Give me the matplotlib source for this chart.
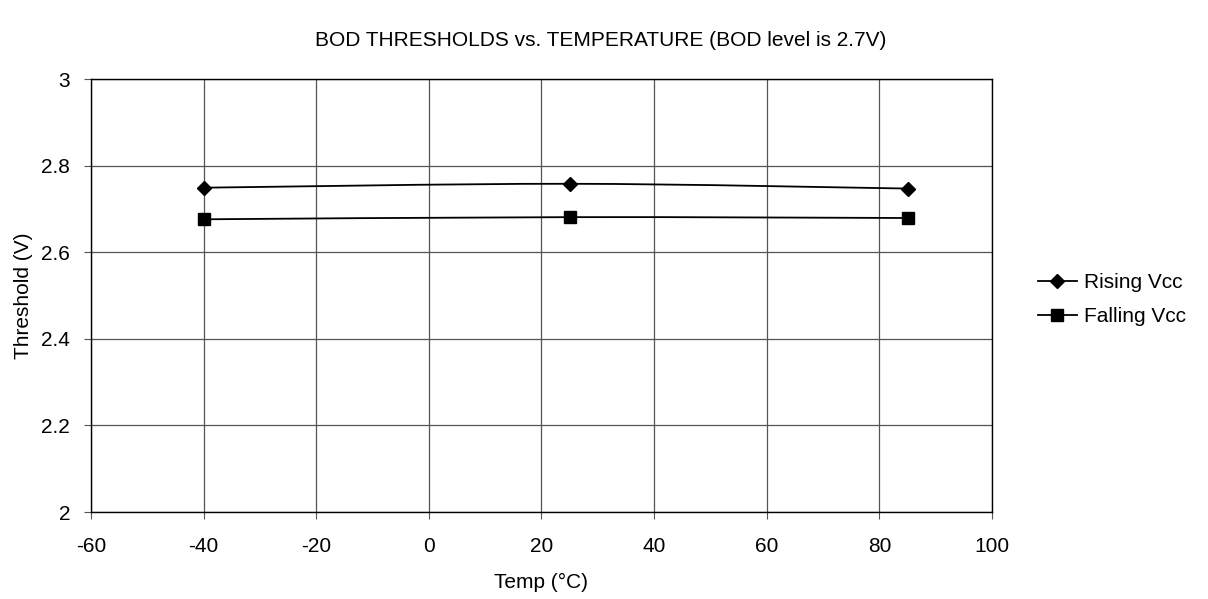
import matplotlib.pyplot as plt
from matplotlib.path import Path
from matplotlib.patches import PathPatch
from matplotlib.lines import Line2D
import numpy as np

plt.rcParams['font.family'] = ['Liberation Sans', 'DejaVu Sans']
plt.rcParams['axes.unicode_minus'] = False

temps = [-40, 25, 85]
rising = [2.749, 2.758, 2.747]
falling = [2.676, 2.681, 2.679]

x_ticks = [-60, -40, -20, 0, 20, 40, 60, 80, 100]
y_ticks = [2, 2.2, 2.4, 2.6, 2.8, 3]
y_labels = ['2', '2.2', '2.4', '2.6', '2.8', '3']


def smooth_path(x, y):
    # Excel-style smoothed line: Catmull-Rom through the points as cubic Beziers
    pts = np.column_stack([x, y]).astype(float)
    ext = np.vstack([pts[0], pts, pts[-1]])
    verts = [pts[0]]
    codes = [Path.MOVETO]
    for i in range(1, len(ext) - 2):
        p0, p1, p2, p3 = ext[i - 1], ext[i], ext[i + 1], ext[i + 2]
        verts += [p1 + (p2 - p0) / 6, p2 - (p3 - p1) / 6, p2]
        codes += [Path.CURVE4] * 3
    return Path(verts, codes)


fig = plt.figure(figsize=(12.08, 5.99), dpi=100)
ax = fig.add_axes([0.0753, 0.1452, 0.7459, 0.7229])

for vals, mk, ms in [(rising, 'D', 7), (falling, 's', 8.5)]:
    ax.add_patch(PathPatch(smooth_path(temps, vals), fill=False,
                           edgecolor='black', lw=1.3, zorder=3))
    ax.plot(temps, vals, linestyle='none', marker=mk, markersize=ms,
            color='black', zorder=4)

ax.set_xlim(-60, 100)
ax.set_ylim(2, 3)
ax.set_xticks(x_ticks)
ax.set_xticklabels([str(t) for t in x_ticks])
ax.set_yticks(y_ticks)
ax.set_yticklabels(y_labels)
ax.grid(True, color='#555555', lw=0.9)
ax.set_axisbelow(True)
for s in ax.spines.values():
    s.set_color('black')
    s.set_linewidth(1.0)
ax.tick_params(axis='both', labelsize=15, length=5, width=0.8,
               color='#555555', pad=10)
ax.tick_params(axis='x', pad=13)

ax.set_xlabel('Temp (°C)', fontsize=15, labelpad=12)
ax.set_ylabel('Threshold (V)', fontsize=15, labelpad=6)
fig.text(0.497, 0.933, 'BOD THRESHOLDS vs. TEMPERATURE (BOD level is 2.7V)',
         ha='center', va='center', fontsize=15)

handles = [
    Line2D([], [], color='black', lw=1.3, marker='D', markersize=7),
    Line2D([], [], color='black', lw=1.3, marker='s', markersize=8.5),
]
fig.legend(handles, ['Rising Vcc', 'Falling Vcc'], loc='center left',
           bbox_to_anchor=(0.859, 0.500), frameon=False, fontsize=15,
           handlelength=1.9, handletextpad=0.3, labelspacing=0.7,
           borderpad=0, borderaxespad=0)

fig.savefig('out.png', dpi=100)
